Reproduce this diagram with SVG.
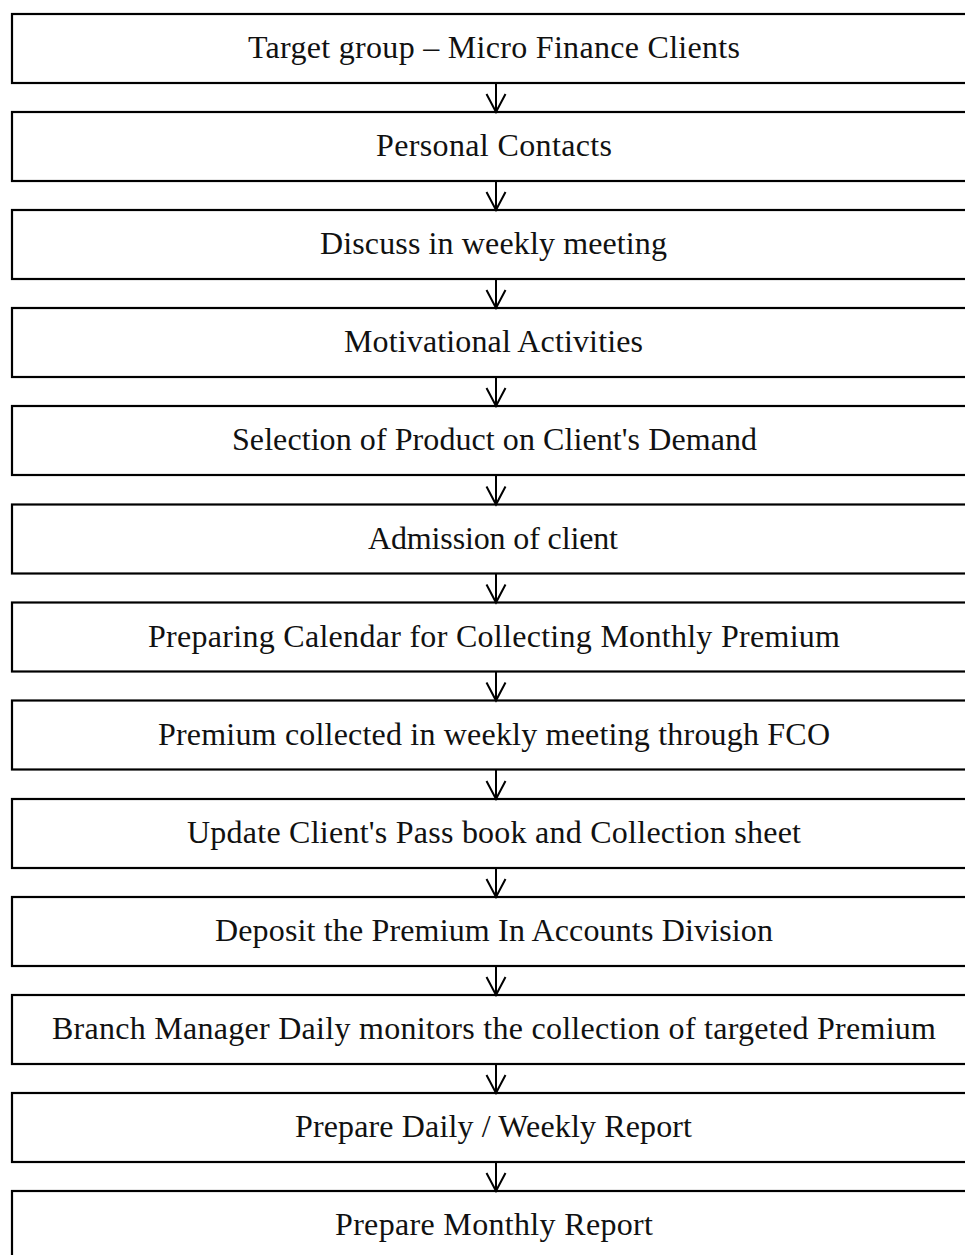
<svg xmlns="http://www.w3.org/2000/svg" width="965" height="1255" viewBox="0 0 965 1255">
<style>
.box{fill:#fff;stroke:#000;stroke-width:2.2}
.lbl{font-family:"Liberation Serif","Times New Roman",serif;font-size:32px;fill:#111;text-anchor:middle}
.con{stroke:#000;stroke-width:2;fill:none}
</style>
<defs>
<marker id="ah" markerUnits="userSpaceOnUse" viewBox="-20 -11 22 22" refX="0" refY="0" markerWidth="22" markerHeight="22" orient="auto">
<path d="M-18,-9.5 L0,0 L-18,9.5" fill="none" stroke="#000" stroke-width="2"/>
</marker>
</defs>
<rect width="965" height="1255" fill="#fff"/>
<g id="n1"><rect class="box" x="12" y="14" width="970" height="69"/><text class="lbl" x="494" y="58" textLength="492">Target group – Micro Finance Clients</text></g>
<g id="n2"><rect class="box" x="12" y="112" width="970" height="69"/><text class="lbl" x="494" y="156" textLength="236">Personal Contacts</text></g>
<g id="n3"><rect class="box" x="12" y="210" width="970" height="69"/><text class="lbl" x="493.5" y="254" textLength="347">Discuss in weekly meeting</text></g>
<g id="n4"><rect class="box" x="12" y="308" width="970" height="69"/><text class="lbl" x="493.5" y="352" textLength="299">Motivational Activities</text></g>
<g id="n5"><rect class="box" x="12" y="406" width="970" height="69"/><text class="lbl" x="494.5" y="450" textLength="525">Selection of Product on Client's Demand</text></g>
<g id="n6"><rect class="box" x="12" y="504.5" width="970" height="69"/><text class="lbl" x="493" y="548.5" textLength="250">Admission of client</text></g>
<g id="n7"><rect class="box" x="12" y="602.5" width="970" height="69"/><text class="lbl" x="494" y="646.5" textLength="692">Preparing Calendar for Collecting Monthly Premium</text></g>
<g id="n8"><rect class="box" x="12" y="700.5" width="970" height="69"/><text class="lbl" x="494" y="744.5" textLength="672">Premium collected in weekly meeting through FCO</text></g>
<g id="n9"><rect class="box" x="12" y="799" width="970" height="69"/><text class="lbl" x="494" y="843" textLength="614">Update Client's Pass book and Collection sheet</text></g>
<g id="n10"><rect class="box" x="12" y="897" width="970" height="69"/><text class="lbl" x="494" y="941" textLength="558">Deposit the Premium In Accounts Division</text></g>
<g id="n11"><rect class="box" x="12" y="995" width="970" height="69"/><text class="lbl" x="494" y="1039" textLength="884">Branch Manager Daily monitors the collection of targeted Premium</text></g>
<g id="n12"><rect class="box" x="12" y="1093" width="970" height="69"/><text class="lbl" x="493.5" y="1137" textLength="397">Prepare Daily / Weekly Report</text></g>
<g id="n13"><rect class="box" x="12" y="1191" width="970" height="69"/><text class="lbl" x="494" y="1235" textLength="318">Prepare Monthly Report</text></g>
<g id="connectors">
<line class="con" x1="496" y1="83" x2="496" y2="112" marker-end="url(#ah)"/>
<line class="con" x1="496" y1="181" x2="496" y2="210" marker-end="url(#ah)"/>
<line class="con" x1="496" y1="279" x2="496" y2="308" marker-end="url(#ah)"/>
<line class="con" x1="496" y1="377" x2="496" y2="406" marker-end="url(#ah)"/>
<line class="con" x1="496" y1="475" x2="496" y2="504.5" marker-end="url(#ah)"/>
<line class="con" x1="496" y1="573.5" x2="496" y2="602.5" marker-end="url(#ah)"/>
<line class="con" x1="496" y1="671.5" x2="496" y2="700.5" marker-end="url(#ah)"/>
<line class="con" x1="496" y1="769.5" x2="496" y2="799" marker-end="url(#ah)"/>
<line class="con" x1="496" y1="868" x2="496" y2="897" marker-end="url(#ah)"/>
<line class="con" x1="496" y1="966" x2="496" y2="995" marker-end="url(#ah)"/>
<line class="con" x1="496" y1="1064" x2="496" y2="1093" marker-end="url(#ah)"/>
<line class="con" x1="496" y1="1162" x2="496" y2="1191" marker-end="url(#ah)"/>
</g>
</svg>
